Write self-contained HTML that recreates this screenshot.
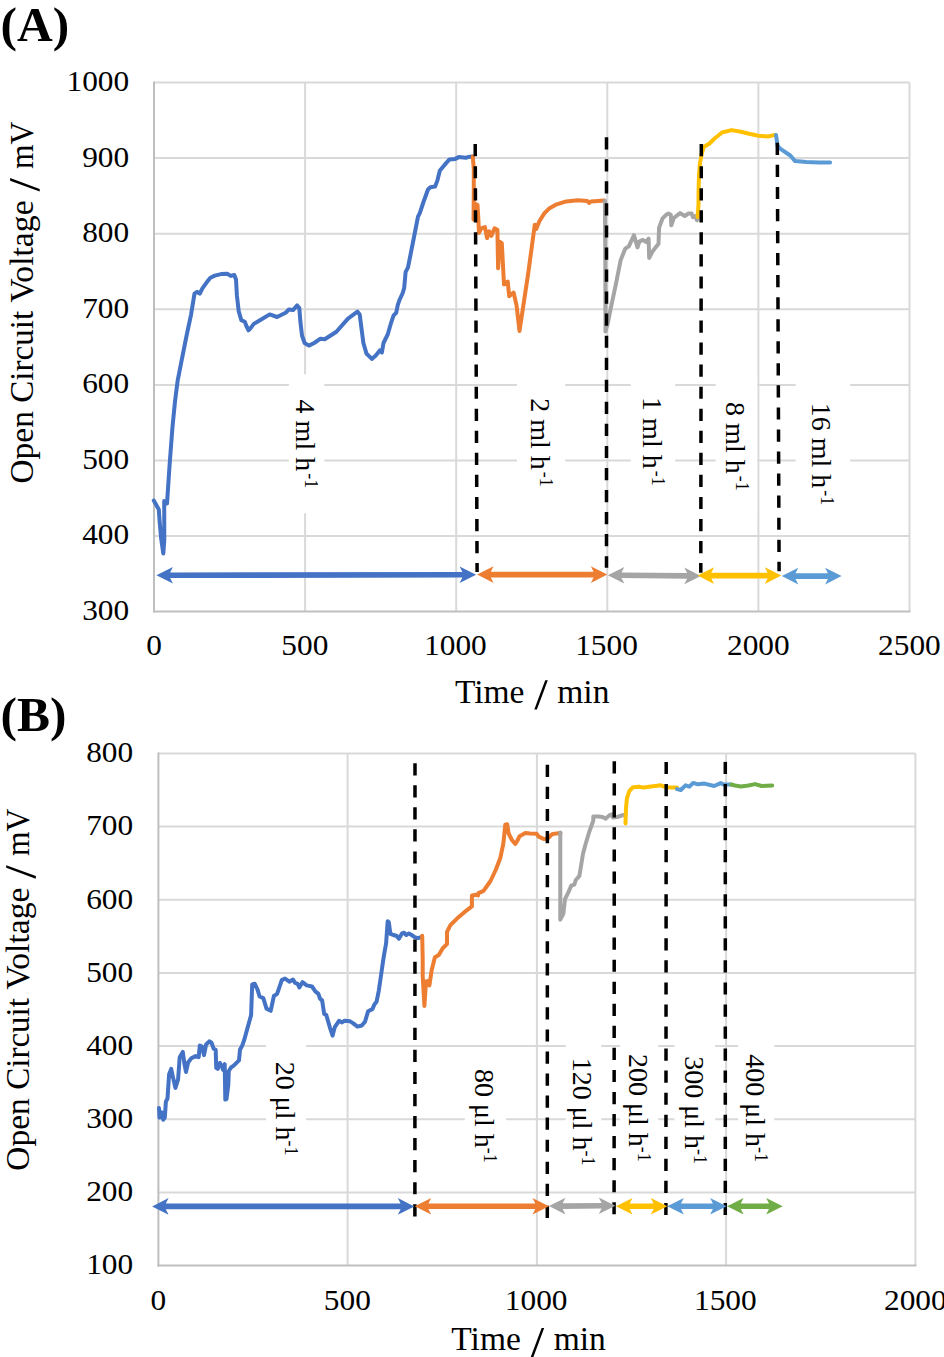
<!DOCTYPE html>
<html><head><meta charset="utf-8"><title>Open Circuit Voltage vs Time</title>
<style>
html,body{margin:0;padding:0;background:#fff;width:944px;height:1357px;overflow:hidden}
svg{display:block}
text{font-family:"Liberation Serif",serif;fill:#000}
.tk{font-size:28.5px}
.at{font-size:33.5px}
.rl{font-size:28px}
.pl{font-size:49.5px;font-weight:bold}
</style></head><body>
<svg width="944" height="1357" viewBox="0 0 944 1357">
<rect width="944" height="1357" fill="#fff"/>
<line x1="154" y1="82.5" x2="909.5" y2="82.5" stroke="#d9d9d9" stroke-width="2"/>
<line x1="154" y1="158.1" x2="909.5" y2="158.1" stroke="#d9d9d9" stroke-width="2"/>
<line x1="154" y1="233.7" x2="909.5" y2="233.7" stroke="#d9d9d9" stroke-width="2"/>
<line x1="154" y1="309.3" x2="909.5" y2="309.3" stroke="#d9d9d9" stroke-width="2"/>
<line x1="154" y1="384.9" x2="909.5" y2="384.9" stroke="#d9d9d9" stroke-width="2"/>
<line x1="154" y1="460.5" x2="909.5" y2="460.5" stroke="#d9d9d9" stroke-width="2"/>
<line x1="154" y1="536" x2="909.5" y2="536" stroke="#d9d9d9" stroke-width="2"/>
<line x1="305.1" y1="82.5" x2="305.1" y2="611.6" stroke="#d9d9d9" stroke-width="2"/>
<line x1="456.2" y1="82.5" x2="456.2" y2="611.6" stroke="#d9d9d9" stroke-width="2"/>
<line x1="607.3" y1="82.5" x2="607.3" y2="611.6" stroke="#d9d9d9" stroke-width="2"/>
<line x1="758.4" y1="82.5" x2="758.4" y2="611.6" stroke="#d9d9d9" stroke-width="2"/>
<line x1="909.5" y1="82.5" x2="909.5" y2="611.6" stroke="#d9d9d9" stroke-width="2"/>
<line x1="154" y1="81.5" x2="154" y2="612.6" stroke="#bfbfbf" stroke-width="2"/>
<line x1="153" y1="611.6" x2="910.5" y2="611.6" stroke="#bfbfbf" stroke-width="2"/>
<rect x="288.9" y="374.2" width="35.4" height="139.1" fill="#fff"/>
<rect x="516.9" y="374" width="48.3" height="138" fill="#fff"/>
<rect x="630.7" y="372.5" width="44.5" height="137.5" fill="#fff"/>
<rect x="715.7" y="377" width="41.5" height="137" fill="#fff"/>
<rect x="795.7" y="378" width="54.5" height="152" fill="#fff"/>
<text transform="translate(66.5,90.9) scale(1.1,1)" class="tk">1000</text>
<text transform="translate(82.2,166.5) scale(1.1,1)" class="tk">900</text>
<text transform="translate(82.2,242.1) scale(1.1,1)" class="tk">800</text>
<text transform="translate(82.2,317.7) scale(1.1,1)" class="tk">700</text>
<text transform="translate(82.2,393.3) scale(1.1,1)" class="tk">600</text>
<text transform="translate(82.2,468.9) scale(1.1,1)" class="tk">500</text>
<text transform="translate(82.2,544.4) scale(1.1,1)" class="tk">400</text>
<text transform="translate(82.2,620) scale(1.1,1)" class="tk">300</text>
<text transform="translate(146.2,655.1) scale(1.1,1)" class="tk">0</text>
<text transform="translate(281.3,655.1) scale(1.1,1)" class="tk">500</text>
<text transform="translate(424.1,655.1) scale(1.1,1)" class="tk">1000</text>
<text transform="translate(575.2,655.1) scale(1.1,1)" class="tk">1500</text>
<text transform="translate(727,655.1) scale(1.1,1)" class="tk">2000</text>
<text transform="translate(878.1,655.1) scale(1.1,1)" class="tk">2500</text>
<text transform="translate(33,483.6) rotate(-90) scale(0.999,1)" class="at">Open</text>
<text transform="translate(33,402.7) rotate(-90) scale(0.987,1)" class="at">Circuit</text>
<text transform="translate(33,302.7) rotate(-90) scale(1.006,1)" class="at">Voltage</text>
<text transform="translate(33,168.9) rotate(-90) scale(0.94,1)" class="at">mV</text>
<polygon points="10.1,178.1 10.1,180.7 39.7,191.6 39.7,189" fill="#000"/>
<text x="454.9" y="702.6" class="at">Time</text>
<text x="557.3" y="702.6" class="at">min</text>
<polygon points="545.2,680.3 547.8,680.3 536.9,709.5 534.3,709.5" fill="#000"/>
<text x="0.5" y="40.7" class="pl">(A)</text>
<text transform="translate(296,399.6) rotate(90)" class="rl">4 ml h<tspan dx="2" dy="-9.3" font-size="18">-1</tspan></text>
<text transform="translate(530.7,398.3) rotate(90)" class="rl">2 ml h<tspan dx="2" dy="-9.3" font-size="18">-1</tspan></text>
<text transform="translate(643.2,397.1) rotate(90)" class="rl">1 ml h<tspan dx="2" dy="-9.3" font-size="18">-1</tspan></text>
<text transform="translate(726.3,402.1) rotate(90)" class="rl">8 ml h<tspan dx="2" dy="-9.3" font-size="18">-1</tspan></text>
<text transform="translate(812,402.7) rotate(90)" class="rl">16 ml h<tspan dx="2" dy="-9.3" font-size="18">-1</tspan></text>
<polyline points="153.8,500.6 158.8,509.5 159.6,521 161.2,539 163.3,553.5 164.3,540 164.2,501 167,503.5 169.7,463.4 172.4,428 175,401.5 177.7,380.3 181.2,362.6 186.5,336 191,314.8 194.5,293.6 197.1,291.8 199.8,293.6 202.4,288.3 206.9,282.1 210.4,277.7 214.8,275.6 221,274.1 227.2,273.8 230.7,275.9 234.3,275 236,279.5 236.9,295.4 238.7,311.3 241.3,320.1 244.8,321.8 246.4,326 248.5,330.3 250.6,328.1 253.8,323.9 259.1,320.7 269.7,314.4 277.1,317 285.6,312.8 288.7,309.6 293,310.1 297.2,305.4 299.3,308 300.4,321.8 302,335.5 304.6,343 308.9,345.6 314.2,343 320.5,338.7 324.7,339.3 332.2,334.5 336.4,331.8 348,318.6 357.5,311.7 359.7,314.4 361.3,327.1 363.4,343 366.5,353.6 371.8,358.9 375.6,355.7 379.8,350.4 381.9,352.5 383.5,343 387.7,334.5 391.4,321.8 393.6,315.4 396.2,312.8 397.8,304.8 399.5,300 402.7,293 404.2,288 405.6,272.1 408,267.4 411.5,249.7 415,232 418,216.7 419.8,213.1 423.3,202.5 428,189.5 430.4,187.2 435.1,186.6 437.5,180.1 439.8,170.7 442.2,167.7 445.7,163.6 449.3,159.5 455.2,158.9 458.7,157.1 465.8,157.7 468.1,157.1 472.3,156.5" fill="none" stroke="#4472c4" stroke-width="4" stroke-linejoin="round" stroke-linecap="round"/>
<polyline points="472.8,156.5 473.8,169.5 473.8,191.6 473.5,219.6 474.1,203.4 477.5,204.8 478.3,218.1 479,232.9 481.2,228.4 484.9,227 487.1,238 489.3,231.4 491.5,235.8 494.5,228.4 497.4,229.9 498.1,268.2 499.6,241.7 501.8,243.2 504,284.4 507.7,281.5 509.2,296.2 513.6,292.5 516.5,305.1 519.5,330.9 523.2,306.5 528.3,272.6 533.5,234.3 534.8,224.8 536.2,229 539.5,221 544.3,213.4 549.1,208.6 556.7,204.3 566.2,201.4 577.7,200.3 587.2,201 589.1,202.9 591,201.4 604.4,200.5" fill="none" stroke="#ed7d31" stroke-width="4" stroke-linejoin="round" stroke-linecap="round"/>
<polyline points="604.9,200.8 605.3,264.9 605.5,331.4 607.8,323.2 611.3,305.7 616,283.6 620.6,260.3 625.3,248.6 628.8,246.3 634,235.2 635.8,241.6 637.5,247.4 639.3,241.6 642.8,239.9 646.3,242.2 648.6,238.7 649.2,257.9 652.1,252.1 655.6,247.4 658.5,244 659.1,227.6 662.6,218.3 666.1,214.8 668.4,213.6 670.8,214.8 671.3,225.3 673.7,218.3 677.8,214.8 680.1,213.1 684.7,216 688.2,213.6 691.7,213.6 692.9,217.1 695.2,216 697,220.1 697.6,217.1" fill="none" stroke="#a5a5a5" stroke-width="4" stroke-linejoin="round" stroke-linecap="round"/>
<polyline points="697.6,217 698.5,205 698.6,190 699,175 700,163 701.6,154.5 703.7,147 709.5,143.5 714,139 722,132.5 731.5,130.1 741.1,131.7 749,133.8 758.6,135.7 768.1,136.5 775.2,134.9" fill="none" stroke="#ffc000" stroke-width="4" stroke-linejoin="round" stroke-linecap="round"/>
<polyline points="776,134.9 777.6,146 780.8,149.2 790.3,155.5 795.1,161.1 806.2,161.9 818.9,162.4 830.1,162.4" fill="none" stroke="#5b9bd5" stroke-width="4" stroke-linejoin="round" stroke-linecap="round"/>
<line x1="475.2" y1="144.1" x2="477.1" y2="572" stroke="#000" stroke-width="3.5" stroke-dasharray="12.2 9.85"/>
<line x1="606.5" y1="137.2" x2="606.5" y2="567.8" stroke="#000" stroke-width="3.5" stroke-dasharray="12.2 9.85"/>
<line x1="701.3" y1="144.1" x2="700.8" y2="572.8" stroke="#000" stroke-width="3.5" stroke-dasharray="12.2 9.85"/>
<line x1="777.3" y1="142.8" x2="779.1" y2="571.3" stroke="#000" stroke-width="3.5" stroke-dasharray="12.2 9.85"/>
<polygon points="156.4,575.2 172.9,566.9 170.1,572.4 462.4,571.9 459.6,566.5 476.1,574.8 459.6,583.1 462.4,577.6 170.1,578.1 172.9,583.5" fill="#4472c4"/>
<polygon points="477.1,574.6 493.6,566.3 490.8,571.8 593.6,571.8 590.8,566.3 607.3,574.6 590.8,582.9 593.6,577.5 490.8,577.5 493.6,582.9" fill="#ed7d31"/>
<polygon points="607.8,575.2 624.3,566.9 621.5,572.4 687.1,573 684.3,567.6 700.8,575.9 684.3,584.2 687.1,578.8 621.5,578.1 624.3,583.5" fill="#a5a5a5"/>
<polygon points="697.6,575.6 714.1,567.3 711.3,572.8 767.6,572.8 764.8,567.3 781.3,575.6 764.8,583.9 767.6,578.5 711.3,578.5 714.1,583.9" fill="#ffc000"/>
<polygon points="781.8,576.1 798.3,567.8 795.5,573.2 827.9,573.2 825.1,567.8 841.6,576.1 825.1,584.4 827.9,579 795.5,579 798.3,584.4" fill="#5b9bd5"/>
<line x1="158.4" y1="753.5" x2="915.4" y2="753.5" stroke="#d9d9d9" stroke-width="2"/>
<line x1="158.4" y1="826.6" x2="915.4" y2="826.6" stroke="#d9d9d9" stroke-width="2"/>
<line x1="158.4" y1="899.8" x2="915.4" y2="899.8" stroke="#d9d9d9" stroke-width="2"/>
<line x1="158.4" y1="972.9" x2="915.4" y2="972.9" stroke="#d9d9d9" stroke-width="2"/>
<line x1="158.4" y1="1046.1" x2="915.4" y2="1046.1" stroke="#d9d9d9" stroke-width="2"/>
<line x1="158.4" y1="1119.2" x2="915.4" y2="1119.2" stroke="#d9d9d9" stroke-width="2"/>
<line x1="158.4" y1="1192.4" x2="915.4" y2="1192.4" stroke="#d9d9d9" stroke-width="2"/>
<line x1="347.6" y1="753.5" x2="347.6" y2="1265.5" stroke="#d9d9d9" stroke-width="2"/>
<line x1="536.9" y1="753.5" x2="536.9" y2="1265.5" stroke="#d9d9d9" stroke-width="2"/>
<line x1="726.1" y1="753.5" x2="726.1" y2="1265.5" stroke="#d9d9d9" stroke-width="2"/>
<line x1="915.4" y1="753.5" x2="915.4" y2="1265.5" stroke="#d9d9d9" stroke-width="2"/>
<line x1="158.4" y1="752.5" x2="158.4" y2="1266.5" stroke="#bfbfbf" stroke-width="2"/>
<line x1="157.4" y1="1265.5" x2="916.4" y2="1265.5" stroke="#bfbfbf" stroke-width="2"/>
<rect x="266" y="1040" width="40.1" height="140" fill="#fff"/>
<rect x="464.8" y="1050" width="41.3" height="135" fill="#fff"/>
<rect x="565.7" y="1035" width="35.6" height="150" fill="#fff"/>
<rect x="620" y="1035" width="38.2" height="150" fill="#fff"/>
<rect x="674.5" y="1035" width="40.7" height="150" fill="#fff"/>
<rect x="738.1" y="1035" width="36.2" height="150" fill="#fff"/>
<text transform="translate(86.2,762.2) scale(1.1,1)" class="tk">800</text>
<text transform="translate(86.2,835.3) scale(1.1,1)" class="tk">700</text>
<text transform="translate(86.2,908.5) scale(1.1,1)" class="tk">600</text>
<text transform="translate(86.2,981.6) scale(1.1,1)" class="tk">500</text>
<text transform="translate(86.2,1054.8) scale(1.1,1)" class="tk">400</text>
<text transform="translate(86.2,1127.9) scale(1.1,1)" class="tk">300</text>
<text transform="translate(86.2,1201.1) scale(1.1,1)" class="tk">200</text>
<text transform="translate(86.2,1274.2) scale(1.1,1)" class="tk">100</text>
<text transform="translate(150.6,1309.7) scale(1.1,1)" class="tk">0</text>
<text transform="translate(323.8,1309.7) scale(1.1,1)" class="tk">500</text>
<text transform="translate(504.8,1309.7) scale(1.1,1)" class="tk">1000</text>
<text transform="translate(694,1309.7) scale(1.1,1)" class="tk">1500</text>
<text transform="translate(884,1309.7) scale(1.1,1)" class="tk">2000</text>
<text transform="translate(29.1,1170.7) rotate(-90) scale(0.999,1)" class="at">Open</text>
<text transform="translate(29.1,1089.8) rotate(-90) scale(0.987,1)" class="at">Circuit</text>
<text transform="translate(29.1,989.8) rotate(-90) scale(1.006,1)" class="at">Voltage</text>
<text transform="translate(29.1,856) rotate(-90) scale(0.94,1)" class="at">mV</text>
<polygon points="6.2,865.2 6.2,867.8 35.8,878.7 35.8,876.1" fill="#000"/>
<text x="451.3" y="1350.3" class="at">Time</text>
<text x="553.7" y="1350.3" class="at">min</text>
<polygon points="541.6,1328 544.2,1328 533.3,1357.2 530.7,1357.2" fill="#000"/>
<text x="0.5" y="730.7" class="pl">(B)</text>
<text transform="translate(275.7,1061.8) rotate(90)" class="rl">20 μl h<tspan dx="0" dy="-9.3" font-size="18">-1</tspan></text>
<text transform="translate(475,1069) rotate(90)" class="rl">80 μl h<tspan dx="0" dy="-9.3" font-size="18">-1</tspan></text>
<text transform="translate(572.8,1057.7) rotate(90)" class="rl">120 μl h<tspan dx="0" dy="-9.3" font-size="18">-1</tspan></text>
<text transform="translate(628.8,1053.9) rotate(90)" class="rl">200 μl h<tspan dx="0" dy="-9.3" font-size="18">-1</tspan></text>
<text transform="translate(684.7,1056.2) rotate(90)" class="rl">300 μl h<tspan dx="0" dy="-9.3" font-size="18">-1</tspan></text>
<text transform="translate(745.7,1054.3) rotate(90)" class="rl">400 μl h<tspan dx="0" dy="-9.3" font-size="18">-1</tspan></text>
<polyline points="159,1108 159.5,1117.6 161.7,1112.3 163.2,1119.7 164.8,1117.6 165.9,1101.7 167.5,1098.5 169.1,1074.2 171.2,1068.9 172.8,1076.3 175.4,1087.9 178.1,1079.4 179.7,1057.2 182.8,1051.9 184.4,1063.6 186,1072 188.1,1062.5 191.3,1058.3 195.6,1056.1 198.7,1057.2 199.8,1045.6 201.9,1046.6 204,1055.1 206.1,1044.5 209.3,1041.3 211.4,1042.4 213.6,1048.7 215.7,1049.8 216.2,1067.8 217.8,1068.9 219.9,1063 222,1066.7 223.1,1069.9 224.7,1064.1 225.3,1099.6 226.5,1099 228.3,1085 228.8,1071 231,1067.5 233.7,1065.7 239,1060.4 240,1049.8 242.2,1045.6 244.2,1040 246.4,1032 251.1,1015.1 252.2,984.4 254.8,983.8 257.5,989.7 259.6,996.5 263.3,998.1 266.5,1008.7 270.7,1010.8 273.9,996 277.1,993.9 281.8,980.1 285,978.5 289.3,981.7 293,979.6 295.1,982.8 297.7,983.8 299.3,987.5 302.5,982.2 306.7,985.4 312,986.5 315.2,991.2 318.4,993.9 320,998.7 322.1,1000.3 324.2,1014 326.3,1015.1 330,1027.8 332.6,1035.6 334.8,1027.1 339,1020.8 341.7,1022.4 344.8,1020.8 350.1,1021.3 353.3,1023.4 357.5,1026.6 361.8,1025.5 365,1021.8 368.1,1011.2 372.4,1009.1 374.5,1004.3 376.6,1001.7 378.7,991.1 380.3,980.5 382.4,965.7 384,955.1 386.1,943.4 387.7,921.2 388.8,922.2 390.4,933.9 393.6,935 396.7,936 398.9,938.7 402,933.4 404.2,932.8 406.3,935 408.9,933.4 411.6,935 414.7,937.1 417.9,938.1 421.1,937.1" fill="none" stroke="#4472c4" stroke-width="4" stroke-linejoin="round" stroke-linecap="round"/>
<polyline points="422.2,935.7 422.7,959.4 422.7,976 424.4,1005.9 426,981.5 428.3,981 429.4,985.4 431.6,970.5 434.9,957.2 438.8,955 442.6,948.4 447,944 447,931.8 450.4,925.2 457,918.6 464.7,911.9 471.9,906.4 471.9,895.4 475.8,894.8 478,895.4 478.5,893.1 483.5,890.9 490.5,881 495.7,870 500.3,858 503.3,843.9 505.3,824.8 507.2,824.3 508.6,833.4 511.9,840 515.3,843.9 517.2,841 519.6,836.2 525.3,832.9 530,833.4 536.7,833.8 538.6,836.7 544.3,839.1 548.2,838.1 552,834.3 556.7,833.4 560.5,832.9" fill="none" stroke="#ed7d31" stroke-width="4" stroke-linejoin="round" stroke-linecap="round"/>
<polyline points="560.3,832.5 560.3,872.2 560.3,919.7 563.4,913.5 565,899.1 568.1,892.9 571.2,885.7 574.3,884.6 575.8,880 579.4,875.9 581,866 583,853.7 586.1,842.3 589.2,832 593.3,820.6 593.3,816.5 598.5,816.5 602.6,817 605.7,818.6 609.9,815 611.9,814.4 613,817.5 617.1,817 623.3,815" fill="none" stroke="#a5a5a5" stroke-width="4" stroke-linejoin="round" stroke-linecap="round"/>
<polyline points="625.5,823.4 626,808.1 626.9,798.6 629.3,791 633.1,787.2 638.8,786.7 643.6,787.6 653.1,786.2 660.8,785.3 665.5,787.2 672.2,787.6 677,787.6" fill="none" stroke="#ffc000" stroke-width="4" stroke-linejoin="round" stroke-linecap="round"/>
<polyline points="677,789.1 680.8,790 685.5,785.3 689.4,786.7 693.2,782.9 697.9,784.3 704.5,783.6 714.1,786 720.7,783.1 723.6,784.5 731.2,784.5" fill="none" stroke="#5b9bd5" stroke-width="4" stroke-linejoin="round" stroke-linecap="round"/>
<polyline points="731.2,784.5 735,785.5 740.8,786.4 748.4,785.5 755.1,784.1 761.7,786 772.2,785.5" fill="none" stroke="#70ad47" stroke-width="4" stroke-linejoin="round" stroke-linecap="round"/>
<line x1="415" y1="763.2" x2="414.9" y2="1216.4" stroke="#000" stroke-width="3.5" stroke-dasharray="12.2 9.85"/>
<line x1="547.4" y1="764.8" x2="547.3" y2="1218.1" stroke="#000" stroke-width="3.5" stroke-dasharray="12.2 9.85"/>
<line x1="614.3" y1="761.2" x2="614.1" y2="1214.3" stroke="#000" stroke-width="3.5" stroke-dasharray="12.2 9.85"/>
<line x1="666.2" y1="761.9" x2="665.9" y2="1215.3" stroke="#000" stroke-width="3.5" stroke-dasharray="12.2 9.85"/>
<line x1="725.3" y1="761.9" x2="725.3" y2="1215.3" stroke="#000" stroke-width="3.5" stroke-dasharray="12.2 9.85"/>
<polygon points="152.1,1206.4 168.6,1198.1 165.8,1203.6 400.6,1203.6 397.8,1198.1 414.3,1206.4 397.8,1214.7 400.6,1209.2 165.8,1209.2 168.6,1214.7" fill="#4472c4"/>
<polygon points="414.7,1206.3 431.2,1198 428.4,1203.5 535.3,1203.5 532.5,1198 549,1206.3 532.5,1214.6 535.3,1209.1 428.4,1209.1 431.2,1214.6" fill="#ed7d31"/>
<polygon points="549,1206.1 565.5,1197.8 562.7,1203.2 601.6,1203 598.8,1197.5 615.3,1205.8 598.8,1214.1 601.6,1208.6 562.7,1208.9 565.5,1214.4" fill="#a5a5a5"/>
<polygon points="616,1206.2 632.5,1197.9 629.7,1203.4 653.6,1203.4 650.8,1197.9 667.3,1206.2 650.8,1214.5 653.6,1209 629.7,1209 632.5,1214.5" fill="#ffc000"/>
<polygon points="667.3,1206.2 683.8,1197.9 681,1203.4 712.9,1203.4 710.1,1197.9 726.6,1206.2 710.1,1214.5 712.9,1209 681,1209 683.8,1214.5" fill="#5b9bd5"/>
<polygon points="727.1,1206.2 743.6,1197.9 740.8,1203.4 769,1203.4 766.2,1197.9 782.7,1206.2 766.2,1214.5 769,1209 740.8,1209 743.6,1214.5" fill="#70ad47"/>
</svg>
</body></html>
